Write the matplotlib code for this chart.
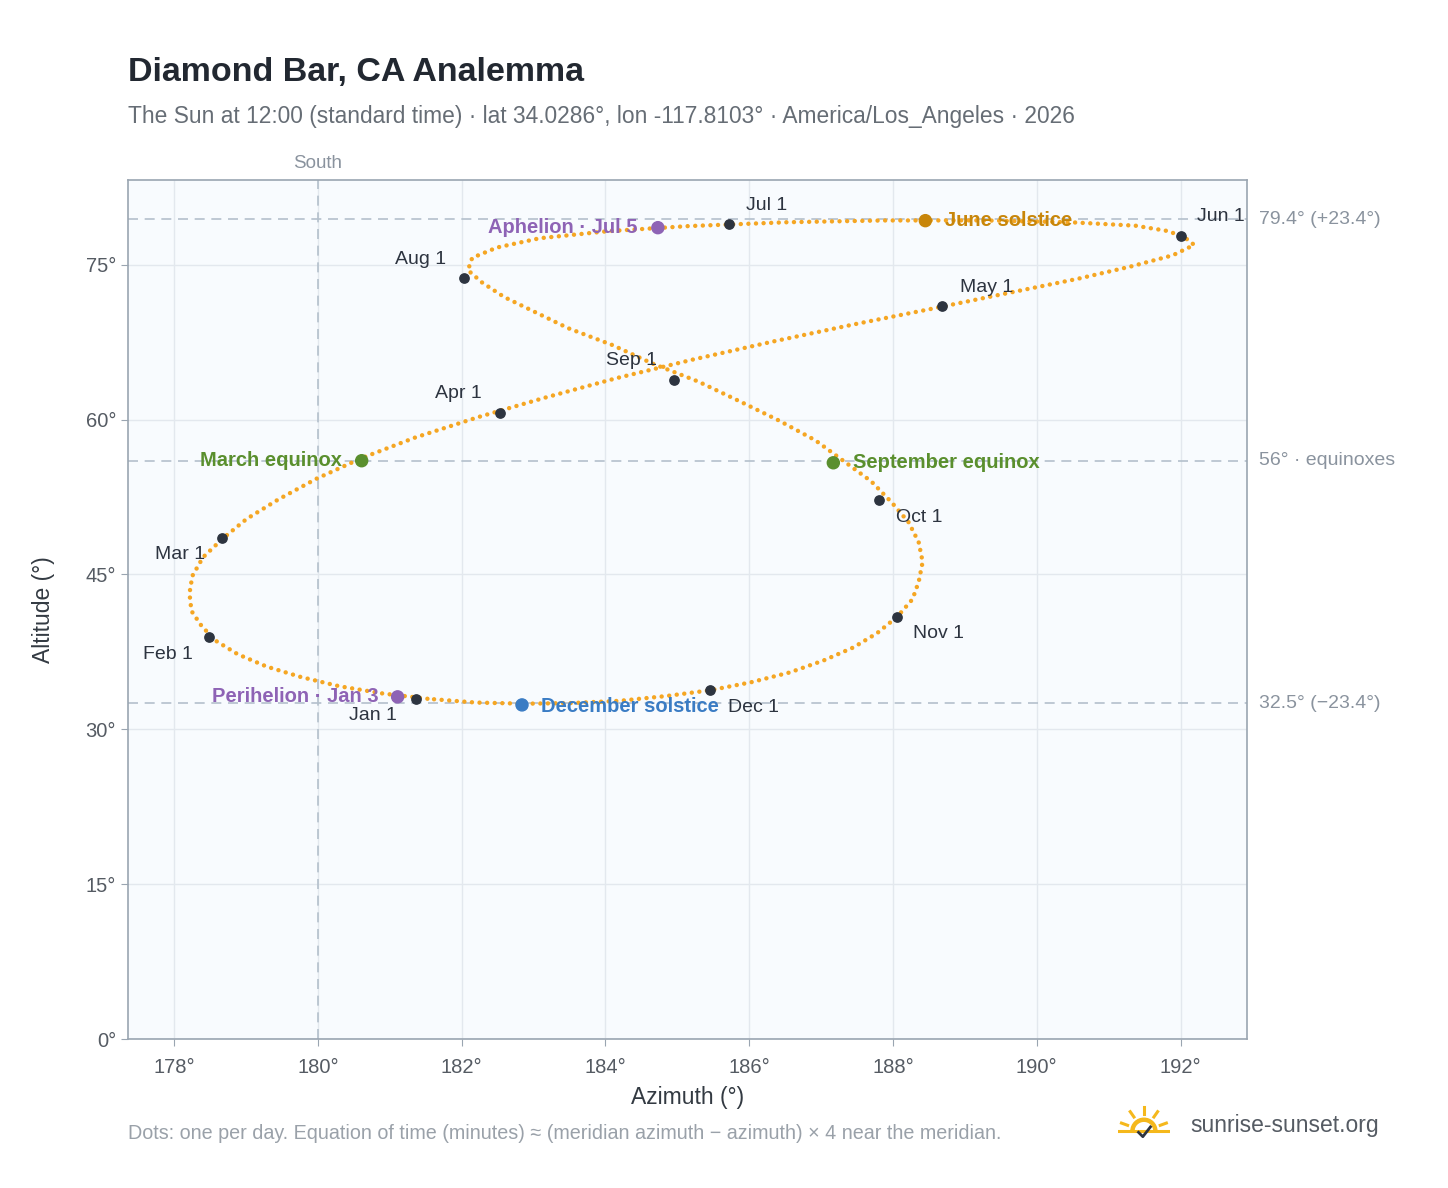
#analemma for Diamond Bar, CA - sun position at 12:00 standard time
import numpy as np
import matplotlib.pyplot as plt
from matplotlib.patches import Wedge

LAT = 34.0286
LON = -117.8103
MERIDIAN = -120.0

# every 5 days from Jan 1: equation of time (min) and declination (deg)
eot = [-3.2, -5.5, -7.7, -9.6, -11.2, -12.5, -13.4, -13.9, -14.2, -14.1, -13.8, -13.2,
       -12.3, -11.3, -10.1, -8.8, -7.4, -5.9, -4.3, -2.8, -1.4, -0.1, 1.1, 2.1,
       2.9, 3.4, 3.7, 3.7, 3.5, 3.0, 2.3, 1.6, 0.8, -0.2, -1.3, -2.4,
       -3.4, -4.4, -5.2, -5.9, -6.3, -6.5, -6.4, -6.0, -5.4, -4.6, -3.6, -2.3,
       -0.9, 0.7, 2.4, 4.1, 5.9, 7.6, 9.3, 10.9, 12.4, 13.7, 14.8, 15.6,
       16.2, 16.4, 16.3, 15.9, 15.1, 14.0, 12.5, 10.8, 8.8, 6.6, 4.2, 1.8, -0.7, -3.2]
decl = [-23.0, -22.5, -21.8, -20.9, -19.9, -18.7, -17.4, -16.0, -14.5, -12.8, -11.1, -9.3,
        -7.5, -5.6, -3.7, -1.7, 0.3, 2.3, 4.3, 6.2, 8.1, 9.9, 11.7, 13.4,
        15.0, 16.5, 17.9, 19.1, 20.2, 21.2, 21.9, 22.5, 23.0, 23.3, 23.44, 23.4,
        23.2, 22.8, 22.3, 21.6, 20.7, 19.7, 18.5, 17.3, 15.9, 14.5, 12.9, 11.3,
        9.5, 7.8, 5.9, 4.1, 2.2, 0.2, -1.7, -3.7, -5.6, -7.5, -9.4, -11.3,
        -13.0, -14.7, -16.3, -17.7, -19.0, -20.2, -21.2, -22.0, -22.6, -23.1, -23.35, -23.44, -23.35, -23.0]

month_names = ['Jan 1', 'Feb 1', 'Mar 1', 'Apr 1', 'May 1', 'Jun 1',
               'Jul 1', 'Aug 1', 'Sep 1', 'Oct 1', 'Nov 1', 'Dec 1']
month_az = [181.37, 178.49, 178.67, 182.53, 188.68, 192.0, 185.72, 182.03, 184.96, 187.81, 188.06, 185.46]
month_alt = [32.95, 38.95, 48.55, 60.66, 71.03, 77.8, 78.97, 73.74, 63.86, 52.23, 40.89, 33.82]

event_names = ['March equinox', 'June solstice', 'September equinox', 'December solstice',
               'Perihelion · Jan 3', 'Aphelion · Jul 5']
event_az = [180.61, 188.45, 187.17, 182.84, 181.11, 184.73]
event_alt = [56.01, 79.26, 55.81, 32.36, 33.14, 78.58]
event_colors = ['#5a8f2e', '#c8860a', '#5a8f2e', '#3a7cc4', '#8e63b5', '#8e63b5']

ref_alt = [79.4, 56.0, 32.5]
ref_labels = ['79.4° (+23.4°)', '56° · equinoxes', '32.5° (\u221223.4°)']

# sun position from hour angle and declination
phi = np.radians(LAT)
H = np.radians(((LON - MERIDIAN) * 4 + np.array(eot)) * 0.25)
d = np.radians(np.array(decl))
az = 180 + np.degrees(np.arctan2(np.sin(H), np.cos(H) * np.sin(phi) - np.tan(d) * np.cos(phi)))
alt = np.degrees(np.arcsin(np.sin(phi) * np.sin(d) + np.cos(phi) * np.cos(d) * np.cos(H)))

plt.rcParams['font.family'] = ['Liberation Sans', 'DejaVu Sans']
fig = plt.figure(figsize=(14.48, 11.88), dpi=100)
ax = fig.add_axes([0.0884, 0.1254, 0.7726, 0.7231])
ax.set_facecolor('#f8fbfe')
ax.set_xlim(177.36, 192.92)
ax.set_ylim(0, 83.2)
ax.set_xticks(range(178, 193, 2))
ax.set_xticklabels([f'{v}°' for v in range(178, 193, 2)])
ax.set_yticks(range(0, 80, 15))
ax.set_yticklabels([f'{v}°' for v in range(0, 80, 15)])
ax.grid(color='#e3e8ee', lw=1)
ax.set_axisbelow(True)
for s in ax.spines.values():
    s.set_color('#9aa5b1')
    s.set_linewidth(1.2)
ax.tick_params(colors='#555b63', labelsize=14.5, length=5, color='#9aa5b1')
ax.tick_params(axis='x', pad=9)
ax.set_xlabel('Azimuth (°)', fontsize=16.5, color='#333a42', labelpad=6)
ax.set_ylabel('Altitude (°)', fontsize=16.5, color='#333a42', labelpad=22)

for y, lab in zip(ref_alt, ref_labels):
    ax.axhline(y, color='#b4c0cc', lw=1.2, ls=(0, (6, 4)), zorder=1)
    ax.annotate(lab, (1, y), xycoords=('axes fraction', 'data'), xytext=(9, 0),
                textcoords='offset points', va='center', fontsize=14, color='#8a939e')
ax.axvline(180, color='#b4c0cc', lw=1.2, ls=(0, (6, 4)), zorder=1)
ax.annotate('South', (180, 1), xycoords=('data', 'axes fraction'), xytext=(0, 6),
            textcoords='offset points', ha='center', va='bottom', fontsize=13.5, color='#8a939e')

ax.plot(az, alt, ls=(0, (0.01, 1.7)), lw=3.2, dash_capstyle='round', color='#f5a623', zorder=3)

ax.scatter(month_az, month_alt, s=45, color='#2d3440', zorder=5)
offs = {'Jan 1': (-31, -12), 'Feb 1': (-30, -13), 'Mar 1': (-30, -12), 'Apr 1': (-30, 14),
        'May 1': (32, 13), 'Jun 1': (29, 14), 'Jul 1': (27, 13), 'Aug 1': (-31, 13),
        'Sep 1': (-31, 14), 'Oct 1': (29, -13), 'Nov 1': (30, -12), 'Dec 1': (31, -13)}
for n, x, y in zip(month_names, month_az, month_alt):
    ax.annotate(n, (x, y), xytext=offs[n], textcoords='offset points', ha='center',
                va='center', fontsize=14, color='#2d3440', zorder=6)

ax.scatter(event_az, event_alt, s=75, color=event_colors, zorder=5)
ev_offs = [(-14, 0, 'right'), (14, 0, 'left'), (14, 0, 'left'), (14, -1, 'left'),
           (-14, 0, 'right'), (-15, 0, 'right')]
for n, x, y, c, (dx, dy, ha) in zip(event_names, event_az, event_alt, event_colors, ev_offs):
    ax.annotate(n, (x, y), xytext=(dx, dy), textcoords='offset points', ha=ha, va='center',
                fontsize=14.5, fontweight='bold', color=c, zorder=6)

fig.text(0.0884, 0.939, 'Diamond Bar, CA Analemma', fontsize=24.5, fontweight='bold', color='#222831', va='center')
fig.text(0.0884, 0.902, 'The Sun at 12:00 (standard time) · lat 34.0286°, lon -117.8103° · America/Los_Angeles · 2026',
         fontsize=16.4, color='#666d75', va='center')
fig.text(0.0884, 0.046, 'Dots: one per day. Equation of time (minutes) \u2248 (meridian azimuth \u2212 azimuth) \u00d7 4 near the meridian.',
         fontsize=14.2, color='#9aa1a9', va='center')
fig.text(0.822, 0.053, 'sunrise-sunset.org', fontsize=16.5, color='#555b63', va='center')

# little sun logo
lg = fig.add_axes([0.772, 0.038, 0.036, 0.036])
lg.set_xlim(-1.2, 1.2)
lg.set_ylim(-0.5, 1.4)
lg.set_aspect('equal')
lg.axis('off')
lg.add_patch(Wedge((0, 0), 0.6, 0, 180, width=0.14, color='#f5b81c'))
for a in np.radians([20, 55, 90, 125, 160]):
    lg.plot([0.8 * np.cos(a), 1.1 * np.cos(a)], [0.8 * np.sin(a), 1.1 * np.sin(a)], color='#f5b81c', lw=2.2)
lg.plot([-1.2, 1.2], [0, 0], color='#f5b81c', lw=2.2)
lg.plot([-0.25, -0.05, 0.3], [-0.05, -0.25, 0.2], color='#2d3440', lw=2)

fig.savefig('out.png', dpi=100)
